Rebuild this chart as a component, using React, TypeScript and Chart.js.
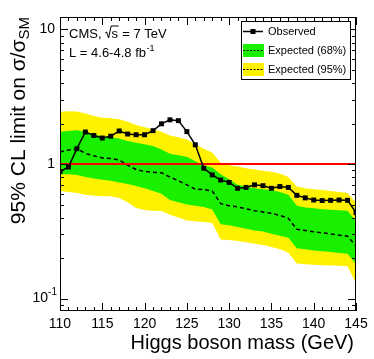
import React, { useEffect, useRef } from 'react';
import { Chart, registerables } from 'chart.js';

Chart.register(...registerables);

const masses = [110, 111, 112, 113, 114, 115, 116, 117, 118, 119, 120, 121, 122, 123, 124, 125, 126, 127, 128, 129, 130, 131, 132, 133, 134, 135, 136, 137, 138, 139, 140, 141, 142, 143, 144, 145];
const observed = [0.88, 0.95, 1.3, 1.73, 1.63, 1.56, 1.61, 1.76, 1.67, 1.65, 1.65, 1.77, 1.99, 2.13, 2.1, 1.74, 1.39, 0.93, 0.83, 0.76, 0.73, 0.66, 0.67, 0.7, 0.69, 0.66, 0.68, 0.67, 0.585, 0.56, 0.54, 0.535, 0.537, 0.54, 0.537, 0.435];
const expected = [1.23, 1.27, 1.3, 1.2, 1.15, 1.11, 1.1, 1.07, 0.98, 0.91, 0.88, 0.87, 0.86, 0.8, 0.75, 0.7, 0.65, 0.645, 0.63, 0.507, 0.49, 0.48, 0.465, 0.45, 0.44, 0.43, 0.415, 0.395, 0.327, 0.32, 0.314, 0.308, 0.302, 0.296, 0.291, 0.246];
const band68High = [1.74, 1.76, 1.78, 1.74, 1.66, 1.61, 1.58, 1.55, 1.48, 1.44, 1.4, 1.36, 1.28, 1.19, 1.16, 1.13, 1.05, 0.98, 0.94, 0.84, 0.77, 0.7, 0.68, 0.66, 0.65, 0.64, 0.62, 0.59, 0.49, 0.475, 0.468, 0.462, 0.457, 0.453, 0.45, 0.377];
const band68Low = [0.84, 0.84, 0.83, 0.8, 0.78, 0.765, 0.75, 0.73, 0.71, 0.685, 0.66, 0.63, 0.6, 0.54, 0.52, 0.5, 0.49, 0.48, 0.46, 0.356, 0.35, 0.34, 0.33, 0.32, 0.315, 0.303, 0.293, 0.283, 0.236, 0.232, 0.228, 0.225, 0.222, 0.218, 0.215, 0.18];
const band95High = [2.45, 2.47, 2.46, 2.37, 2.27, 2.21, 2.19, 2.15, 2.06, 1.95, 1.88, 1.81, 1.74, 1.63, 1.58, 1.52, 1.4, 1.3, 1.22, 1.02, 0.98, 0.96, 0.93, 0.91, 0.89, 0.875, 0.85, 0.8, 0.68, 0.66, 0.648, 0.64, 0.63, 0.62, 0.61, 0.516];
const band95Low = [0.63, 0.62, 0.61, 0.59, 0.58, 0.575, 0.575, 0.56, 0.52, 0.47, 0.455, 0.45, 0.447, 0.42, 0.4, 0.38, 0.375, 0.37, 0.365, 0.275, 0.272, 0.268, 0.262, 0.255, 0.25, 0.242, 0.232, 0.219, 0.182, 0.18, 0.178, 0.177, 0.176, 0.175, 0.174, 0.13];
const smRange = [110, 145];
const smValue = 1;
const xTickValues = [110, 115, 120, 125, 130, 135, 140, 145];
const yLabelValues = [0.1, 1, 10];
const yMin = 0.0808;
const yMax = 12.38;

const FONT = '"Liberation Sans", Arial, Helvetica, sans-serif';
const YELLOW = '#fff200';
const GREEN = '#19f000';

const pts = (ys: number[]) => masses.map((m, i) => ({ x: m, y: ys[i] }));

const decor = {
  id: 'decor',
  afterDatasetsDraw(chart: any) {
    const ctx: CanvasRenderingContext2D = chart.ctx;
    const { left, right, top, bottom } = chart.chartArea;
    const xs = chart.scales.x;
    const ys = chart.scales.y;
    ctx.save();
    ctx.strokeStyle = '#000';
    ctx.lineWidth = 1;
    const seg = (x1: number, y1: number, x2: number, y2: number) => {
      ctx.beginPath();
      ctx.moveTo(x1, y1);
      ctx.lineTo(x2, y2);
      ctx.stroke();
    };
    for (let m = masses[0]; m <= masses[masses.length - 1]; m++) {
      const px = Math.round(xs.getPixelForValue(m)) + 0.5;
      const len = m % 5 === 0 ? 8 : 4;
      seg(px, bottom, px, bottom - len);
      seg(px, top, px, top + len);
    }
    for (const d of [0.01, 0.1, 1, 10]) {
      for (let k = 1; k <= 9; k++) {
        const v = d * k;
        if (v < yMin || v > yMax) continue;
        const py = Math.round(ys.getPixelForValue(v)) + 0.5;
        const len = k === 1 ? 8 : 4;
        seg(left, py, left + len, py);
        seg(right, py, right - len, py);
      }
    }
    ctx.strokeRect(left + 0.5, top + 0.5, right - left - 1, bottom - top - 1);

    ctx.fillStyle = '#000';
    ctx.textBaseline = 'middle';
    for (const v of yLabelValues) {
      const py = ys.getPixelForValue(v);
      const ex = Math.round(Math.log10(v));
      ctx.font = `14px ${FONT}`;
      if (ex === 0) {
        ctx.textAlign = 'right';
        ctx.fillText('1', 55, py);
      } else if (ex === 1) {
        ctx.textAlign = 'right';
        ctx.fillText('10', 55, py);
      } else {
        ctx.font = `10px ${FONT}`;
        const sup = String(ex);
        const sw = ctx.measureText(sup).width;
        ctx.textAlign = 'right';
        ctx.fillText(sup, 57, py - 6);
        ctx.font = `14px ${FONT}`;
        ctx.fillText('10', 57 - sw, py);
      }
    }

    ctx.textBaseline = 'alphabetic';
    ctx.textAlign = 'right';
    ctx.font = `20px ${FONT}`;
    ctx.fillText('Higgs boson mass (GeV)', 354, 349);

    ctx.save();
    ctx.translate(25, 17);
    ctx.rotate(-Math.PI / 2);
    ctx.textAlign = 'left';
    const main = '95% CL limit on σ/σ';
    ctx.font = `21px ${FONT}`;
    const mw = ctx.measureText(main).width;
    ctx.font = `15px ${FONT}`;
    const subw = ctx.measureText('SM').width;
    const start = -(mw + subw);
    ctx.font = `21px ${FONT}`;
    ctx.fillText(main, start, 0);
    ctx.font = `15px ${FONT}`;
    ctx.fillText('SM', start + mw, 4);
    ctx.restore();

    ctx.textAlign = 'left';
    ctx.font = `13px ${FONT}`;
    let x = 69;
    const b1 = 38;
    ctx.fillText('CMS, ', x, b1);
    x += ctx.measureText('CMS, ').width;
    ctx.beginPath();
    ctx.moveTo(x, b1 - 5);
    ctx.lineTo(x + 1.5, b1 - 6);
    ctx.lineTo(x + 3.5, b1);
    ctx.lineTo(x + 6, b1 - 12);
    const sW = ctx.measureText('s').width;
    ctx.lineTo(x + 7 + sW, b1 - 12);
    ctx.stroke();
    ctx.fillText('s', x + 6.5, b1);
    x += 7 + sW;
    ctx.fillText(' = 7 TeV', x, b1);
    const b2 = 57;
    ctx.fillText('L = 4.6-4.8 fb', 69, b2);
    const lw = ctx.measureText('L = 4.6-4.8 fb').width;
    ctx.font = `9px ${FONT}`;
    ctx.fillText('-1', 69 + lw + 0.5, b2 - 6);

    const lx = 241, ly = 21, lwid = 109, lh = 58;
    ctx.fillStyle = '#fff';
    ctx.fillRect(lx, ly, lwid, lh);
    ctx.strokeStyle = '#000';
    ctx.strokeRect(lx + 0.5, ly + 0.5, lwid, lh);
    ctx.fillStyle = '#000';
    ctx.lineWidth = 1.5;
    seg(243, 31.5, 263, 31.5);
    ctx.fillRect(250.5, 29, 5, 5);
    ctx.fillStyle = GREEN;
    ctx.fillRect(243, 44, 21, 13);
    ctx.fillStyle = YELLOW;
    ctx.fillRect(243, 63, 21, 13);
    ctx.setLineDash([2, 1.5]);
    ctx.lineWidth = 1;
    seg(243, 50.5, 264, 50.5);
    seg(243, 69.5, 264, 69.5);
    ctx.setLineDash([]);
    ctx.fillStyle = '#000';
    ctx.font = `11px ${FONT}`;
    ctx.textBaseline = 'middle';
    ctx.fillText('Observed', 268, 32);
    ctx.fillText('Expected (68%)', 268, 51);
    ctx.fillText('Expected (95%)', 268, 70);
    ctx.restore();
  },
};

export default function App() {
  const ref = useRef<HTMLCanvasElement | null>(null);
  useEffect(() => {
    const canvas = ref.current;
    if (!canvas) return;
    const chart = new Chart(canvas, {
      type: 'line',
      data: {
        datasets: [
          {
            label: 'Observed',
            data: pts(observed),
            borderColor: '#000',
            backgroundColor: '#000',
            borderWidth: 1.5,
            pointStyle: 'rect',
            pointRadius: 3.5,
            pointBorderWidth: 0,
            fill: false,
            order: 0,
          },
          {
            label: 'SM',
            data: smRange.map((m) => ({ x: m, y: smValue })),
            borderColor: '#ff0000',
            borderWidth: 2,
            pointRadius: 0,
            fill: false,
            order: 1,
          },
          {
            label: 'Expected',
            data: pts(expected),
            borderColor: '#000',
            borderWidth: 1.5,
            borderDash: [4, 3],
            pointRadius: 0,
            fill: false,
            order: 2,
          },
          {
            label: '68% high',
            data: pts(band68High),
            borderWidth: 0,
            borderColor: 'rgba(0,0,0,0)',
            backgroundColor: GREEN,
            pointRadius: 0,
            fill: 4,
            order: 3,
          },
          {
            label: '68% low',
            data: pts(band68Low),
            borderWidth: 0,
            borderColor: 'rgba(0,0,0,0)',
            pointRadius: 0,
            fill: false,
            order: 4,
          },
          {
            label: '95% high',
            data: pts(band95High),
            borderWidth: 0,
            borderColor: 'rgba(0,0,0,0)',
            backgroundColor: YELLOW,
            pointRadius: 0,
            fill: 6,
            order: 5,
          },
          {
            label: '95% low',
            data: pts(band95Low),
            borderWidth: 0,
            borderColor: 'rgba(0,0,0,0)',
            pointRadius: 0,
            fill: false,
            order: 6,
          },
        ],
      },
      options: {
        animation: false,
        responsive: false,
        devicePixelRatio: 1,
        layout: { padding: { top: 17, right: 18, left: 0, bottom: 0 } },
        plugins: {
          legend: { display: false },
          tooltip: { enabled: false },
        },
        elements: { line: { tension: 0 } },
        scales: {
          x: {
            type: 'linear',
            min: 110,
            max: 145,
            grid: { display: false, drawTicks: false },
            border: { display: false },
            ticks: {
              color: '#000',
              font: { family: FONT, size: 14 },
              padding: 5,
              maxRotation: 0,
              autoSkip: false,
            },
            afterBuildTicks: (s: any) => {
              s.ticks = xTickValues.map((v) => ({ value: v }));
            },
            afterFit: (s: any) => {
              s.height = 48;
            },
          },
          y: {
            type: 'logarithmic',
            min: yMin,
            max: yMax,
            grid: { display: false, drawTicks: false },
            border: { display: false },
            ticks: { display: false },
            afterFit: (s: any) => {
              s.width = 60;
            },
          },
        },
      },
      plugins: [decor],
    } as any);
    return () => chart.destroy();
  }, []);
  return (
    <div style={{ position: 'fixed', left: 0, top: 0, width: 374, height: 359, background: '#fff' }}>
      <canvas ref={ref} width={374} height={359} />
    </div>
  );
}
